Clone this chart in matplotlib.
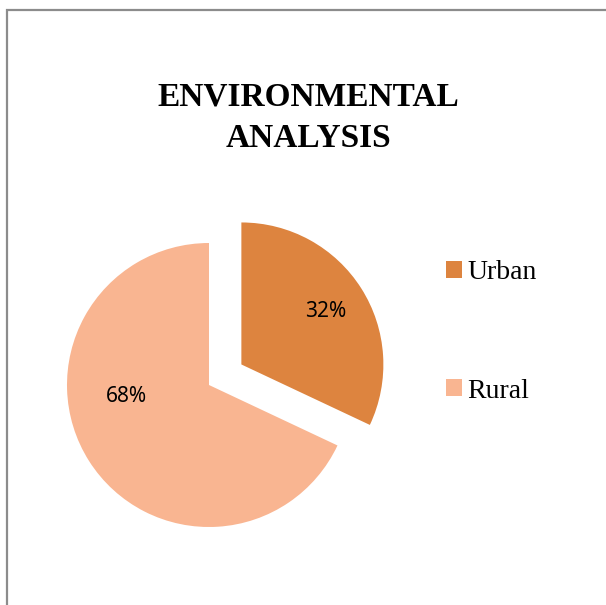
import matplotlib.pyplot as plt
from matplotlib.patches import Rectangle

categories = ["Urban", "Rural"]
shares = [32, 68]
colors = ["#DD843F", "#F9B591"]

fig = plt.figure(figsize=(6.06, 6.05), dpi=100)

# chart border (runs off the right and bottom edge)
fig.patches.append(Rectangle((6.5 / 606, -0.1), 1.2, 1.1 - 10.5 / 605,
                             transform=fig.transFigure, fill=False,
                             edgecolor="#8c8c8c", linewidth=1.6, clip_on=False))

fig.text(308 / 606, 1 - 118 / 605, "ENVIRONMENTAL\nANALYSIS",
         ha="center", va="center", fontsize=24, fontweight="bold",
         family="Liberation Serif", linespacing=1.45)

ax = fig.add_axes([10.2 / 606, 21.2 / 605, 397.6 / 606, 397.6 / 605])
wedges, texts, autotexts = ax.pie(
    shares, colors=colors, startangle=90, counterclock=False,
    explode=[0.27, 0], autopct="%d%%", pctdistance=0.7,
    textprops=dict(fontsize=15, family="Noto Sans"))
ax.set_xlim(-1.4, 1.4)
ax.set_ylim(-1.4, 1.4)
ax.set_aspect("equal")
ax.axis("off")

# rural label sits further left than the wedge midpoint
autotexts[1].set_position((-0.58, -0.08))

fig.legend(wedges, categories, loc="center left", frameon=False,
           bbox_to_anchor=(446 / 606, 1 - 332 / 605), borderpad=0,
           borderaxespad=0, handlelength=0.56, handleheight=0.56,
           handletextpad=0.2, labelspacing=3.35,
           prop=dict(family="Liberation Serif", size=20))

fig.savefig("out.png", dpi=100)
